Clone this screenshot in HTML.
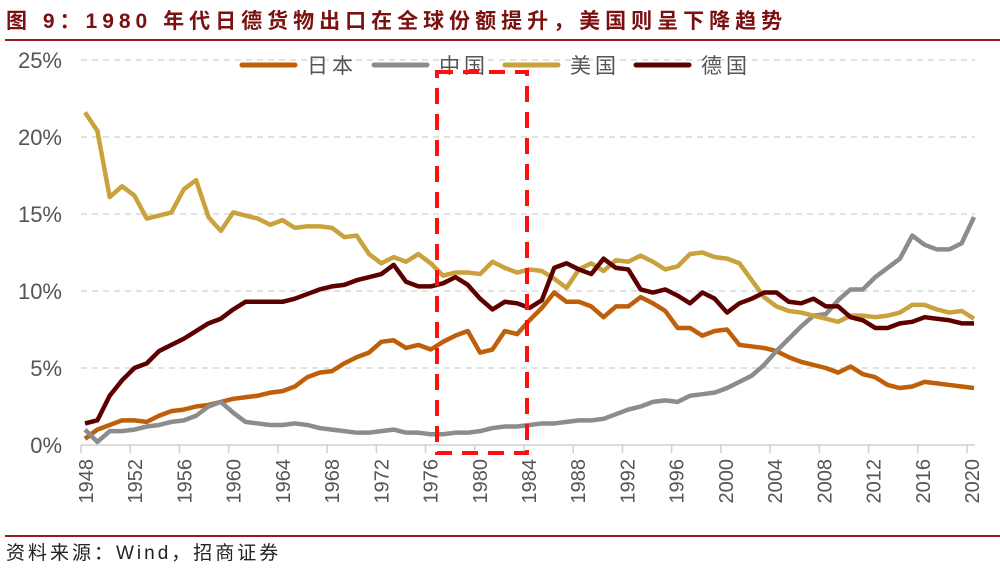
<!DOCTYPE html>
<html><head><meta charset="utf-8"><style>
body{margin:0;background:#fff;width:1000px;height:569px;overflow:hidden;font-family:"Liberation Sans","Noto Sans CJK SC",sans-serif}
</style></head><body>
<svg id="chart" width="1000" height="569" xmlns="http://www.w3.org/2000/svg">
<text x="6" y="28" font-size="21" font-weight="bold" fill="#7a1010" letter-spacing="5" font-family="Liberation Sans, Noto Sans CJK SC, sans-serif">图 9：1980 年代日德货物出口在全球份额提升，美国则呈下降趋势</text>
<line x1="5" y1="40" x2="1000" y2="40" stroke="#9b1b1b" stroke-width="2"/>
<line x1="5" y1="536" x2="1000" y2="536" stroke="#9b1b1b" stroke-width="2"/>
<text x="6" y="559" font-size="19" fill="#222" letter-spacing="3" font-family="Liberation Sans, Noto Sans CJK SC, sans-serif">资料来源：Wind，招商证券</text>
<g id="grid"></g><g id="axes"></g><g id="series"></g><g id="legend"></g>
<rect x="437" y="72" width="90" height="381" fill="none" stroke="#ff1010" stroke-width="4" stroke-dasharray="16,10"/>
</svg>
<script>
const years=[];for(let y=1948;y<=2020;y++)years.push(y);
const yTicks=[0,5,10,15,20,25];
const xTickYears=[1948,1952,1956,1960,1964,1968,1972,1976,1980,1984,1988,1992,1996,2000,2004,2008,2012,2016,2020];
const japan=[0.4,1.0,1.3,1.6,1.6,1.5,1.9,2.2,2.3,2.5,2.6,2.8,3.0,3.1,3.2,3.4,3.5,3.8,4.4,4.7,4.8,5.3,5.7,6.0,6.7,6.8,6.3,6.5,6.2,6.7,7.1,7.4,6.0,6.2,7.4,7.2,8.1,8.9,9.9,9.3,9.3,9.0,8.3,9.0,9.0,9.6,9.2,8.7,7.6,7.6,7.1,7.4,7.5,6.5,6.4,6.3,6.1,5.7,5.4,5.2,5.0,4.7,5.1,4.6,4.4,3.9,3.7,3.8,4.1,4.0,3.9,3.8,3.7];
const china=[1.0,0.2,0.9,0.9,1.0,1.2,1.3,1.5,1.6,1.9,2.5,2.8,2.1,1.5,1.4,1.3,1.3,1.4,1.3,1.1,1.0,0.9,0.8,0.8,0.9,1.0,0.8,0.8,0.7,0.7,0.8,0.8,0.9,1.1,1.2,1.2,1.3,1.4,1.4,1.5,1.6,1.6,1.7,2.0,2.3,2.5,2.8,2.9,2.8,3.2,3.3,3.4,3.7,4.1,4.5,5.2,6.1,6.9,7.7,8.4,8.5,9.4,10.1,10.1,10.9,11.5,12.1,13.6,13.0,12.7,12.7,13.1,14.8];
const usa=[21.6,20.4,16.1,16.8,16.2,14.7,14.9,15.1,16.6,17.2,14.8,13.9,15.1,14.9,14.7,14.3,14.6,14.1,14.2,14.2,14.1,13.5,13.6,12.4,11.8,12.2,11.9,12.4,11.8,11.0,11.2,11.2,11.1,11.9,11.5,11.2,11.4,11.3,10.8,10.2,11.4,11.8,11.3,12.0,11.9,12.3,11.9,11.4,11.6,12.4,12.5,12.2,12.1,11.8,10.7,9.6,9.0,8.7,8.6,8.4,8.2,8.0,8.4,8.4,8.3,8.4,8.6,9.1,9.1,8.8,8.6,8.7,8.2];
const germany=[1.4,1.6,3.2,4.2,5.0,5.3,6.1,6.5,6.9,7.4,7.9,8.2,8.8,9.3,9.3,9.3,9.3,9.5,9.8,10.1,10.3,10.4,10.7,10.9,11.1,11.7,10.6,10.3,10.3,10.5,10.9,10.4,9.5,8.8,9.3,9.2,8.9,9.4,11.5,11.8,11.4,11.1,12.1,11.5,11.4,10.1,9.9,10.1,9.7,9.2,9.9,9.5,8.6,9.2,9.5,9.9,9.9,9.3,9.2,9.5,9.0,9.0,8.3,8.1,7.6,7.6,7.9,8.0,8.3,8.2,8.1,7.9,7.9];
const seriesNames=["日本","中国","美国","德国"];
const seriesData=[japan,china,usa,germany];
const seriesColors=["#bf5f0a","#8c8c8c","#c9a23c","#5c0000"];
const seriesKeys=["japan","china","usa","germany"];
const NS="http://www.w3.org/2000/svg";
const xData=y=>85+(y-1948)*(974-85)/72;
const xTick=y=>81+(y-1948)*(967-81)/72;
const yS=v=>445-v*15.4;
function mk(t,a,p){const e=document.createElementNS(NS,t);for(const k in a)e.setAttribute(k,a[k]);p.appendChild(e);return e;}
const grid=document.getElementById('grid'),axes=document.getElementById('axes'),ser=document.getElementById('series'),leg=document.getElementById('legend');
yTicks.forEach(v=>{
 if(v>0){const l=mk('line',{x1:81,x2:975,y1:yS(v),y2:yS(v),stroke:'#d0d0d0','stroke-width':1.2,'stroke-dasharray':'6,5'},grid);
 
 }
 const t=mk('text',{x:62,y:yS(v)+8,'text-anchor':'end','font-size':22,fill:'#555'},axes);t.textContent=v+'%';
 
 
});
const ax=mk('line',{x1:81,x2:975,y1:445,y2:445,stroke:'#d0d0d0','stroke-width':1.5},axes);


xTickYears.forEach(y=>{
 const tk=mk('line',{x1:xTick(y),x2:xTick(y),y1:445,y2:453,stroke:'#d0d0d0','stroke-width':1.5},axes);
 
 
 const cx=xTick(y)+5;
 const t=mk('text',{x:0,y:0,'text-anchor':'end','font-size':20,fill:'#555',transform:`translate(${cx+7},459) rotate(-90)`},axes);t.textContent=y;
 
 
});
seriesData.forEach((d,i)=>{
 const p=mk('polyline',{points:d.map((v,j)=>xData(years[j])+','+yS(v)).join(' '),fill:'none',stroke:seriesColors[i],'stroke-width':4.5,'stroke-linejoin':'round'},ser);
 
 
});
const lx=[242,374,505,636];
seriesNames.forEach((n,i)=>{
 const l=mk('line',{x1:lx[i],x2:lx[i]+53,y1:65,y2:65,stroke:seriesColors[i],'stroke-width':5,'stroke-linecap':'round'},leg);
 
 
 const t=mk('text',{x:lx[i]+65,y:73,'font-size':21,fill:'#555','letter-spacing':'4'},leg);t.textContent=n;
 
 
});
</script>
</body></html>
